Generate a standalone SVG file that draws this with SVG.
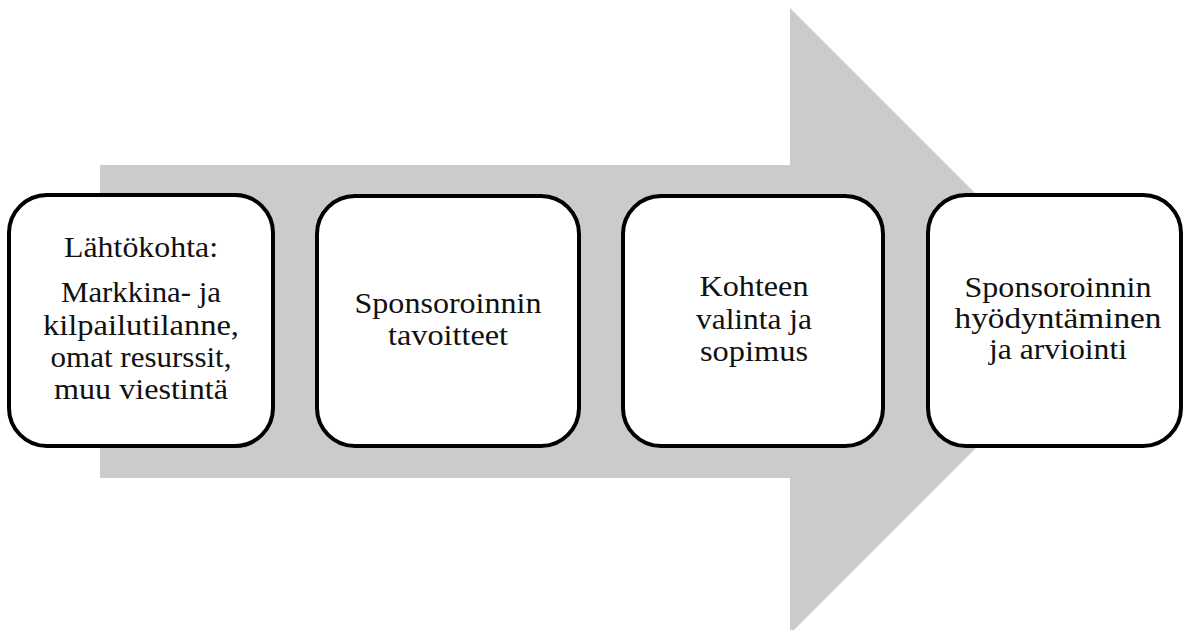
<svg xmlns="http://www.w3.org/2000/svg" width="1184" height="630" viewBox="0 0 1184 630">
  <style>
    .step { fill: #ffffff; stroke: #000000; stroke-width: 4; }
    .label { font-family: "Liberation Serif", "Times New Roman", "DejaVu Serif", serif; font-size: 30px; fill: #111111; text-anchor: middle; }
  </style>
  <rect width="1184" height="630" fill="#ffffff"/>

  <!-- big process arrow behind the steps -->
  <g id="connectors">
    <polygon points="100,165 790,165 790,8 1103,321 790,634 790,478 100,478" fill="#cbcbcb"/>
  </g>

  <g id="step1">
    <rect class="step" x="9" y="195" width="264" height="251" rx="38" ry="38"/>
    <text class="label" x="141" y="257" textLength="154" lengthAdjust="spacingAndGlyphs">Lähtökohta:</text>
    <text class="label" x="141" y="302" textLength="160" lengthAdjust="spacingAndGlyphs">Markkina- ja</text>
    <text class="label" x="141" y="335" textLength="196" lengthAdjust="spacingAndGlyphs">kilpailutilanne,</text>
    <text class="label" x="141" y="367" textLength="181" lengthAdjust="spacingAndGlyphs">omat resurssit,</text>
    <text class="label" x="141" y="399" textLength="174" lengthAdjust="spacingAndGlyphs">muu viestintä</text>
  </g>

  <g id="step2">
    <rect class="step" x="317" y="196" width="262" height="250" rx="38" ry="38"/>
    <text class="label" x="448" y="313" textLength="187" lengthAdjust="spacingAndGlyphs">Sponsoroinnin</text>
    <text class="label" x="448" y="345" textLength="120" lengthAdjust="spacingAndGlyphs">tavoitteet</text>
  </g>

  <g id="step3">
    <rect class="step" x="623" y="196" width="260" height="250" rx="38" ry="38"/>
    <text class="label" x="754" y="296" textLength="109" lengthAdjust="spacingAndGlyphs">Kohteen</text>
    <text class="label" x="754" y="329" textLength="116" lengthAdjust="spacingAndGlyphs">valinta ja</text>
    <text class="label" x="754" y="361" textLength="108" lengthAdjust="spacingAndGlyphs">sopimus</text>
  </g>

  <g id="step4">
    <rect class="step" x="928" y="195" width="253" height="251" rx="38" ry="38"/>
    <text class="label" x="1058" y="297" textLength="187" lengthAdjust="spacingAndGlyphs">Sponsoroinnin</text>
    <text class="label" x="1058" y="328" textLength="207" lengthAdjust="spacingAndGlyphs">hyödyntäminen</text>
    <text class="label" x="1058" y="359" textLength="138" lengthAdjust="spacingAndGlyphs">ja arviointi</text>
  </g>
</svg>
